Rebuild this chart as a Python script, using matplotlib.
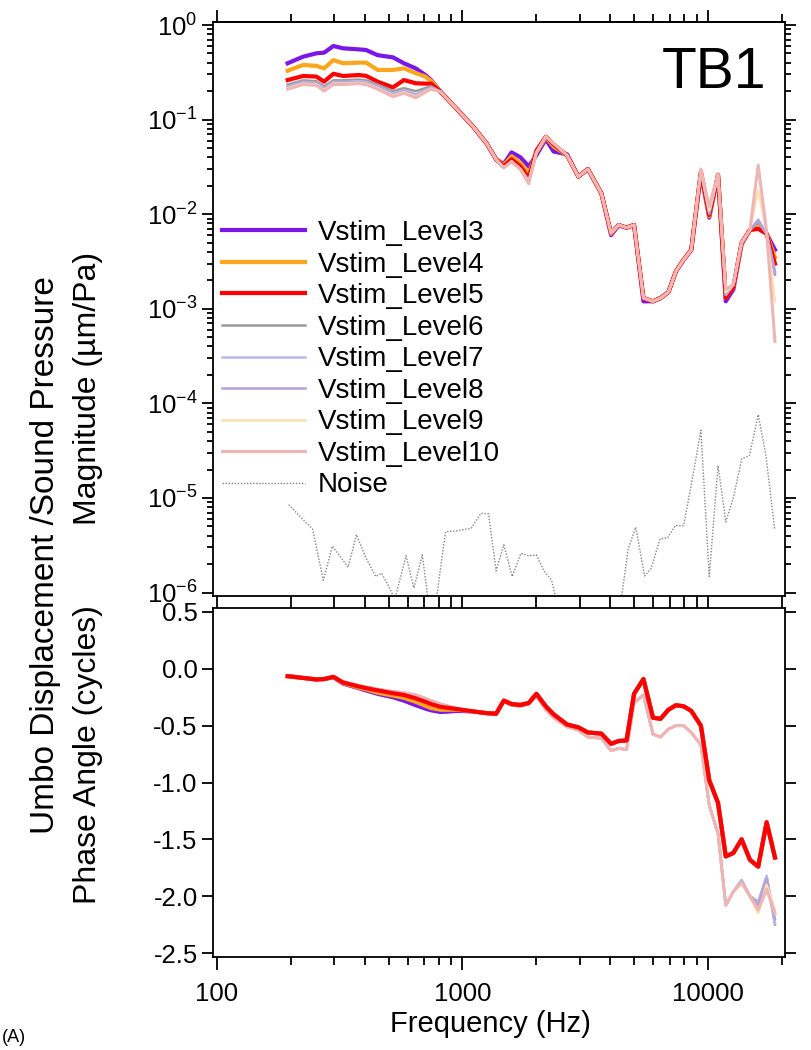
import math
import matplotlib
matplotlib.use('Agg')
import matplotlib.pyplot as plt
from matplotlib.ticker import LogLocator, FixedLocator, NullFormatter, FuncFormatter, NullLocator

plt.rcParams['font.family'] = ['Liberation Sans', 'DejaVu Sans']
plt.rcParams['mathtext.fontset'] = 'custom'
plt.rcParams['mathtext.rm'] = 'Liberation Sans'
plt.rcParams['mathtext.it'] = 'Liberation Sans:italic'
plt.rcParams['mathtext.bf'] = 'Liberation Sans:bold'

# ---------------- data ----------------
freq = [194, 224, 254, 273, 298, 326, 377, 405, 451, 521, 577, 645, 706, 745,
        814, 957, 1106, 1254, 1371, 1473, 1585, 1720, 1862, 2000, 2185, 2350, 2666,
        2964, 3243, 3680, 4030, 4327, 4660, 5000, 5460, 5970, 6410, 6900, 7410,
        7960, 8550, 9360, 10120, 10990, 11820, 12690, 13710, 14820, 16020, 17340, 18750]

levels = ['Vstim_Level3', 'Vstim_Level4', 'Vstim_Level5', 'Vstim_Level6',
          'Vstim_Level7', 'Vstim_Level8', 'Vstim_Level9', 'Vstim_Level10']

mag_L3 = [0.394, 0.462, 0.502, 0.51, 0.60, 0.567, 0.553, 0.544, 0.48, 0.455, 0.394, 0.348, 0.296, 0.262,
          0.197, 0.126, 0.084, 0.056, 0.038, 0.034, 0.045, 0.040, 0.032, 0.042, 0.062, 0.046, 0.043,
          0.025, 0.030, 0.0166, 0.0060, 0.0076, 0.0072, 0.0077, 0.0012, 0.0012, 0.0013, 0.0015, 0.0025,
          0.0033, 0.0042, 0.027, 0.0092, 0.026, 0.0012, 0.0016, 0.0048, 0.0068, 0.0075, 0.0062, 0.0042]
mag_L4 = [0.329, 0.378, 0.37, 0.348, 0.426, 0.394, 0.40, 0.40, 0.335, 0.335, 0.348, 0.31, 0.285, 0.256,
          0.197, 0.126, 0.084, 0.056, 0.038, 0.033, 0.041, 0.035, 0.027, 0.045, 0.065, 0.052, 0.042,
          0.025, 0.030, 0.0166, 0.0062, 0.0077, 0.0072, 0.0077, 0.0013, 0.0012, 0.0013, 0.0015, 0.0025,
          0.0033, 0.0042, 0.028, 0.0095, 0.026, 0.0013, 0.0017, 0.0049, 0.0068, 0.0078, 0.0062, 0.0035]
mag_L5 = [0.262, 0.289, 0.285, 0.252, 0.305, 0.289, 0.296, 0.29, 0.252, 0.219, 0.262, 0.242, 0.24, 0.24,
          0.197, 0.126, 0.084, 0.056, 0.038, 0.032, 0.038, 0.032, 0.024, 0.047, 0.066, 0.055, 0.042,
          0.025, 0.030, 0.0166, 0.0063, 0.0077, 0.0072, 0.0077, 0.0013, 0.0012, 0.0013, 0.0015, 0.0025,
          0.0033, 0.0042, 0.028, 0.0098, 0.026, 0.0013, 0.0017, 0.0050, 0.0068, 0.0070, 0.0062, 0.0030]
mag_L6 = [0.235, 0.26, 0.255, 0.225, 0.26, 0.26, 0.265, 0.26, 0.235, 0.20, 0.215, 0.20, 0.215, 0.225,
          0.197, 0.126, 0.084, 0.056, 0.038, 0.031, 0.036, 0.030, 0.023, 0.045, 0.066, 0.056, 0.042,
          0.025, 0.030, 0.0166, 0.0063, 0.0077, 0.0072, 0.0077, 0.0013, 0.0012, 0.0013, 0.0015, 0.0025,
          0.0033, 0.0042, 0.028, 0.0100, 0.026, 0.0014, 0.0018, 0.0050, 0.0068, 0.0082, 0.0062, 0.0023]
mag_L7 = [0.225, 0.25, 0.245, 0.215, 0.25, 0.25, 0.255, 0.25, 0.225, 0.19, 0.205, 0.185, 0.205, 0.218,
          0.197, 0.126, 0.084, 0.056, 0.038, 0.031, 0.036, 0.030, 0.022, 0.045, 0.066, 0.056, 0.042,
          0.025, 0.030, 0.0166, 0.0063, 0.0077, 0.0072, 0.0077, 0.0013, 0.0012, 0.0013, 0.0015, 0.0025,
          0.0033, 0.0042, 0.029, 0.0105, 0.026, 0.0014, 0.0018, 0.0050, 0.0068, 0.0088, 0.0062, 0.0025]
mag_L8 = [0.22, 0.245, 0.24, 0.21, 0.245, 0.245, 0.25, 0.245, 0.22, 0.185, 0.20, 0.18, 0.20, 0.215,
          0.197, 0.126, 0.084, 0.056, 0.038, 0.031, 0.036, 0.030, 0.022, 0.045, 0.066, 0.056, 0.042,
          0.025, 0.030, 0.0166, 0.0063, 0.0077, 0.0072, 0.0077, 0.0013, 0.0012, 0.0013, 0.0015, 0.0025,
          0.0033, 0.0042, 0.029, 0.0105, 0.026, 0.0014, 0.0018, 0.0050, 0.0068, 0.0085, 0.0062, 0.0024]
mag_L9 = [0.215, 0.24, 0.235, 0.205, 0.24, 0.24, 0.245, 0.24, 0.215, 0.18, 0.195, 0.175, 0.198, 0.212,
          0.197, 0.126, 0.084, 0.056, 0.038, 0.031, 0.036, 0.030, 0.022, 0.045, 0.066, 0.056, 0.042,
          0.025, 0.030, 0.0166, 0.0063, 0.0077, 0.0072, 0.0077, 0.0013, 0.0012, 0.0013, 0.0015, 0.0025,
          0.0033, 0.0042, 0.029, 0.0110, 0.026, 0.0015, 0.0018, 0.0050, 0.0068, 0.018, 0.0064, 0.0012]
mag_L10 = [0.21, 0.235, 0.23, 0.20, 0.235, 0.235, 0.24, 0.235, 0.21, 0.175, 0.19, 0.17, 0.195, 0.21,
           0.197, 0.126, 0.084, 0.056, 0.038, 0.031, 0.036, 0.030, 0.021, 0.045, 0.066, 0.056, 0.042,
           0.025, 0.030, 0.0166, 0.0063, 0.0077, 0.0072, 0.0077, 0.0013, 0.0012, 0.0013, 0.0015, 0.0025,
           0.0033, 0.0042, 0.030, 0.0120, 0.027, 0.0016, 0.0018, 0.0050, 0.0068, 0.033, 0.0065, 0.00045]

ph_L3 = [-0.065, -0.08, -0.094, -0.09, -0.075, -0.13, -0.17, -0.19, -0.22, -0.25, -0.28, -0.32, -0.35, -0.365,
         -0.38, -0.37, -0.375, -0.39, -0.395, -0.28, -0.31, -0.318, -0.30, -0.22, -0.33, -0.40, -0.49,
         -0.515, -0.56, -0.57, -0.66, -0.635, -0.63, -0.22, -0.09, -0.43, -0.44, -0.36, -0.32,
         -0.33, -0.37, -0.50, -0.98, -1.18, -1.65, -1.62, -1.50, -1.68, -1.74, -1.35, -1.66]
ph_L4 = [-0.065, -0.08, -0.094, -0.09, -0.072, -0.125, -0.165, -0.18, -0.21, -0.235, -0.255, -0.29, -0.325, -0.345,
         -0.36, -0.36, -0.375, -0.39, -0.395, -0.28, -0.31, -0.318, -0.30, -0.22, -0.33, -0.40, -0.49,
         -0.515, -0.56, -0.57, -0.66, -0.635, -0.63, -0.22, -0.09, -0.43, -0.44, -0.36, -0.32,
         -0.33, -0.37, -0.50, -0.98, -1.18, -1.65, -1.62, -1.50, -1.68, -1.74, -1.35, -1.66]
ph_L5 = [-0.065, -0.08, -0.094, -0.09, -0.07, -0.12, -0.155, -0.17, -0.19, -0.215, -0.23, -0.26, -0.29, -0.31,
         -0.335, -0.355, -0.375, -0.39, -0.395, -0.28, -0.31, -0.318, -0.30, -0.22, -0.33, -0.40, -0.49,
         -0.515, -0.56, -0.57, -0.66, -0.635, -0.63, -0.22, -0.09, -0.43, -0.44, -0.36, -0.32,
         -0.33, -0.37, -0.50, -0.98, -1.18, -1.65, -1.62, -1.50, -1.68, -1.74, -1.35, -1.66]
ph_L6 = [-0.065, -0.078, -0.09, -0.088, -0.068, -0.115, -0.145, -0.16, -0.18, -0.20, -0.21, -0.23, -0.26, -0.28,
         -0.31, -0.35, -0.375, -0.39, -0.40, -0.29, -0.32, -0.33, -0.31, -0.24, -0.36, -0.43, -0.51,
         -0.54, -0.60, -0.61, -0.72, -0.70, -0.71, -0.30, -0.23, -0.575, -0.60, -0.53, -0.50,
         -0.50, -0.56, -0.67, -1.20, -1.45, -2.08, -1.96, -1.86, -2.00, -2.05, -1.83, -2.25]
ph_L7 = [-0.065, -0.078, -0.09, -0.088, -0.068, -0.115, -0.145, -0.16, -0.18, -0.20, -0.21, -0.23, -0.26, -0.28,
         -0.31, -0.35, -0.375, -0.39, -0.40, -0.29, -0.32, -0.33, -0.31, -0.24, -0.36, -0.43, -0.51,
         -0.54, -0.60, -0.61, -0.72, -0.70, -0.71, -0.30, -0.23, -0.575, -0.60, -0.53, -0.50,
         -0.50, -0.56, -0.67, -1.20, -1.45, -2.08, -1.96, -1.86, -2.00, -2.06, -1.82, -2.24]
ph_L8 = [-0.065, -0.078, -0.09, -0.088, -0.068, -0.115, -0.145, -0.16, -0.18, -0.20, -0.21, -0.23, -0.26, -0.28,
         -0.31, -0.35, -0.375, -0.39, -0.40, -0.29, -0.32, -0.33, -0.31, -0.24, -0.36, -0.43, -0.51,
         -0.54, -0.60, -0.61, -0.72, -0.70, -0.71, -0.30, -0.23, -0.575, -0.60, -0.53, -0.50,
         -0.50, -0.56, -0.67, -1.20, -1.45, -2.08, -1.96, -1.87, -2.00, -2.08, -1.85, -2.20]
ph_L9 = [-0.065, -0.078, -0.09, -0.088, -0.068, -0.115, -0.145, -0.16, -0.18, -0.20, -0.21, -0.23, -0.26, -0.28,
         -0.31, -0.35, -0.375, -0.39, -0.40, -0.29, -0.32, -0.33, -0.31, -0.24, -0.36, -0.43, -0.51,
         -0.54, -0.60, -0.61, -0.72, -0.70, -0.71, -0.30, -0.23, -0.575, -0.60, -0.53, -0.50,
         -0.50, -0.56, -0.67, -1.20, -1.45, -2.08, -1.96, -1.89, -2.00, -2.15, -1.90, -2.12]
ph_L10 = [-0.065, -0.078, -0.09, -0.088, -0.068, -0.115, -0.145, -0.16, -0.18, -0.20, -0.21, -0.23, -0.26, -0.28,
          -0.31, -0.35, -0.375, -0.39, -0.40, -0.29, -0.32, -0.33, -0.31, -0.24, -0.36, -0.43, -0.51,
          -0.54, -0.60, -0.61, -0.72, -0.70, -0.71, -0.30, -0.23, -0.575, -0.60, -0.53, -0.50,
          -0.50, -0.56, -0.67, -1.20, -1.45, -2.08, -1.96, -1.88, -2.00, -2.12, -1.94, -2.15]

noise_freq = [196, 220, 245, 271, 295, 342, 370, 402, 443, 468, 502, 530, 589, 634, 686, 724, 780,
              853, 957, 1086, 1188, 1277, 1371, 1473, 1594, 1730, 1860, 2000, 2147, 2307, 2418, 3000,
              4000, 4450, 4730, 5080, 5520, 5870, 6380, 6850, 7360, 7960, 8550, 9360, 10120, 10990,
              11820, 12690, 13730, 14750, 16030, 17230, 18720]
noise_mag = [8.5e-6, 6.2e-6, 4.7e-6, 1.35e-6, 3.1e-6, 1.85e-6, 4.1e-6, 2.4e-6, 1.48e-6, 1.6e-6, 1.15e-6,
             8.5e-7, 2.45e-6, 1.12e-6, 2.5e-6, 8.5e-7, 8.0e-7, 4.4e-6, 4.5e-6, 4.8e-6, 6.9e-6, 6.8e-6,
             1.7e-6, 3.2e-6, 1.48e-6, 2.6e-6, 2.45e-6, 2.5e-6, 1.7e-6, 1.35e-6, 8.0e-7, 5e-7, 5e-7, 9e-7,
             2.9e-6, 4.9e-6, 1.5e-6, 1.8e-6, 3.7e-6, 3.8e-6, 5.1e-6, 5.1e-6, 1.38e-5, 5.2e-5, 1.48e-6,
             2.2e-5, 5.6e-6, 1.0e-5, 2.6e-5, 2.8e-5, 7.6e-5, 2.8e-5, 4.6e-6]

xticks_major = [100, 1000, 10000]
phase_ticks = [0.5, 0.0, -0.5, -1.0, -1.5, -2.0, -2.5]

colors = ['#7B16E8', '#FBA61C', '#FF0000', '#9B9B9B', '#B8B8EE', '#B4A0DC', '#FCE2B0', '#EFB4B4']
widths = [3.0, 3.0, 3.0, 1.8, 1.8, 1.8, 1.8, 2.2]

mags = [mag_L3, mag_L4, mag_L5, mag_L6, mag_L7, mag_L8, mag_L9, mag_L10]
phases = [ph_L3, ph_L4, ph_L5, ph_L6, ph_L7, ph_L8, ph_L9, ph_L10]

# ---------------- figure ----------------
W, H = 811, 1050
fig = plt.figure(figsize=(W / 100, H / 100), dpi=100)
ax1 = fig.add_axes([213 / W, 1 - 596 / H, 572 / W, 574 / H])
ax2 = fig.add_axes([213 / W, 1 - 957 / H, 572 / W, 349 / H])

XLIM = (96.3, 20600)
LW = 1.3

for i in range(8):
    ax1.plot(freq, mags[i], color=colors[i], lw=widths[i], label=levels[i], zorder=2 + i,
             solid_joinstyle='round')
ax1.plot(noise_freq, noise_mag, color='#858585', lw=1.0, ls=(0, (1, 1.2)), label='Noise', zorder=1)

order2 = [3, 4, 5, 6, 7, 0, 1, 2]
for k, i in enumerate(order2):
    ax2.plot(freq, phases[i], color=colors[i], lw=widths[i], zorder=2 + k, solid_joinstyle='round')

for ax in (ax1, ax2):
    ax.set_xscale('log')
    ax.set_xlim(*XLIM)
    for s in ax.spines.values():
        s.set_linewidth(LW)
    ax.xaxis.set_major_locator(FixedLocator(xticks_major))
    ax.xaxis.set_minor_locator(LogLocator(base=10, subs=[2, 3, 4, 5, 6, 7, 8, 9]))
    ax.xaxis.set_minor_formatter(NullFormatter())


def pow_label(v, p):
    e = int(round(math.log10(v)))
    return r'$\mathregular{10^{%d}}$' % e if e == 0 else r'$\mathregular{10^{-%d}}$' % (-e)


# top panel
ax1.set_yscale('log')
ax1.set_ylim(9.2e-7, 1.076)
ax1.yaxis.set_major_locator(FixedLocator([1e-6, 1e-5, 1e-4, 1e-3, 1e-2, 1e-1, 1e0]))
ax1.yaxis.set_minor_locator(LogLocator(base=10, subs=[2, 3, 4, 5, 6, 7, 8, 9], numticks=20))
ax1.yaxis.set_minor_formatter(NullFormatter())
ax1.yaxis.set_major_formatter(FuncFormatter(pow_label))
ax1.tick_params(axis='y', which='both', direction='out', left=True, right=True, labelright=False,
                labelsize=18.5, width=LW, pad=3)
ax1.tick_params(axis='y', which='major', length=8)
ax1.tick_params(axis='y', which='minor', length=4.5)
ax1.tick_params(axis='x', which='both', direction='out', bottom=True, top=False, labelbottom=False,
                length=8.6, width=LW)
sec = ax1.secondary_xaxis('top')
sec.xaxis.set_major_locator(FixedLocator(xticks_major))
sec.xaxis.set_minor_locator(LogLocator(base=10, subs=[2, 3, 4, 5, 6, 7, 8, 9]))
sec.xaxis.set_minor_formatter(NullFormatter())
sec.xaxis.set_major_formatter(NullFormatter())
sec.tick_params(which='major', direction='out', length=9, width=LW)
sec.tick_params(which='minor', direction='out', length=5.5, width=LW)
sec.spines['top'].set_linewidth(LW)

ax1.text(0.967, 0.911, 'TB1', transform=ax1.transAxes, ha='right', va='center', fontsize=41)

leg = ax1.legend(loc='upper left', bbox_to_anchor=(0.016, 0.655), frameon=False, fontsize=20,
                 handlelength=3.0, handletextpad=0.45, labelspacing=0.2, borderpad=0, borderaxespad=0)

# bottom panel
ax2.set_ylim(-2.535, 0.535)
ax2.yaxis.set_major_locator(FixedLocator(phase_ticks))
ax2.yaxis.set_minor_locator(NullLocator())
ax2.yaxis.set_major_formatter(FuncFormatter(lambda v, p: '%.1f' % v if abs(v) > 1e-9 else '0.0'))
ax2.xaxis.set_major_formatter(FuncFormatter(lambda v, p: '%d' % round(v)))
ax2.tick_params(axis='y', which='both', direction='out', left=True, right=True, labelright=False,
                labelsize=18.5, width=LW, length=8, pad=3)
ax2.tick_params(axis='x', which='both', direction='out', bottom=True, top=False, labelsize=18.5,
                width=LW, pad=9)
ax2.tick_params(axis='x', which='major', length=9)
ax2.tick_params(axis='x', which='minor', length=5.5)

# labels
fig.text(46 / W, 1 - 555 / H, 'Umbo Displacement /Sound Pressure', rotation=90, ha='center', va='center',
         fontsize=24)
fig.text(88 / W, 1 - 388 / H, 'Magnitude (\u00b5m/Pa)', rotation=90, ha='center', va='center', fontsize=23)
fig.text(88 / W, 1 - 755 / H, 'Phase Angle (cycles)', rotation=90, ha='center', va='center', fontsize=23)
fig.text(490 / W, 1 - 1024 / H, 'Frequency (Hz)', ha='center', va='center', fontsize=21)
fig.text(2 / W, 1 - 1038 / H, '(A)', ha='left', va='center', fontsize=13)

fig.savefig('out.png', dpi=100)
